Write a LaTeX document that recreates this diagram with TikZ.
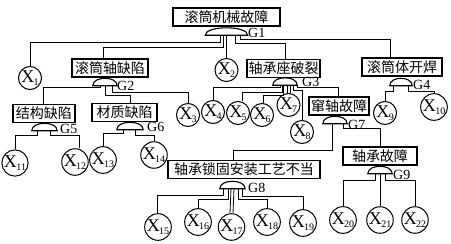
\documentclass[tikz,border=0pt]{standalone}
\usepackage{fontspec}
\setmainfont{Liberation Serif}
\newfontfamily\cjk{Noto Sans CJK SC}
\usetikzlibrary{calc}
\newcommand\xl[1]{X\kern-0.5pt\raisebox{-0.3ex}{\fontsize{10}{10}\selectfont#1}}
\tikzset{
 box/.style={draw, line width=1.2pt, inner sep=0pt, minimum height=18pt, font=\cjk\fontsize{14}{14}\selectfont},
 evt/.style={circle, draw, line width=1pt, minimum size=23pt, inner sep=0pt, font=\fontsize{18}{18}\selectfont},
 gate/.style={inner sep=0pt, minimum height=7pt},
 gatelab/.style={anchor=west, inner sep=0pt, font=\fontsize{14}{14}\selectfont},
 wire/.style={line width=0.8pt},
 gateline/.style={line width=1.1pt}
}
\begin{document}
\begin{tikzpicture}[x=1pt,y=-1pt]
\useasboundingbox (0,0) rectangle (451,244);
% boxes
\node[box, minimum width=107pt] (t)  at (226.5,17)  {滚筒机械故障};
\node[box, minimum width=76pt]  (b2) at (110,68)    {滚筒轴缺陷};
\node[box, minimum width=73pt]  (b3) at (283.5,68.5){轴承座破裂};
\node[box, minimum width=80pt]  (b4) at (402,67)    {滚筒体开焊};
\node[box, minimum width=62pt]  (b5) at (44,113.5)  {结构缺陷};
\node[box, minimum width=65pt]  (b6) at (124.5,112.5){材质缺陷};
\node[box, minimum width=60pt]  (b7) at (339,106)   {窜轴故障};
\node[box, minimum width=152pt] (b8) at (244,169.5) {轴承锁固安装工艺不当};
\node[box, minimum width=74pt]  (b9) at (380,156)   {轴承故障};
% gates
\node[gate, minimum width=42pt] (g1) at (226.5,31.5) {};
\node[gate, minimum width=24pt] (g2) at (105,82) {};
\node[gate, minimum width=24pt] (g3) at (285,81.5) {};
\node[gate, minimum width=22pt] (g4) at (401,82) {};
\node[gate, minimum width=25pt] (g5) at (44.5,127) {};
\node[gate, minimum width=26pt] (g6) at (130,126) {};
\node[gate, minimum width=24pt] (g7) at (335,120) {};
\node[gate, minimum width=25pt] (g8) at (232.5,185) {};
\node[gate, minimum width=24pt] (g9) at (380,170) {};
\foreach \g in {g1,g2,g3,g4,g5,g6,g7,g8,g9}{
  \draw[gateline] (\g.south west) .. controls ([yshift=5pt]\g.south west) and ($(\g.north west)!0.5!(\g.north)$) .. (\g.north)
     .. controls ($(\g.north east)!0.5!(\g.north)$) and ([yshift=5pt]\g.south east) .. (\g.south east) -- cycle;
}
% gate labels
\node[gatelab] (l1) at (248,33) {G1};
\node[gatelab] (l2) at (117,86) {G2};
\node[gatelab] (l3) at (302,82) {G3};
\node[gatelab] (l4) at (413,85) {G4};
\node[gatelab] (l5) at (60,129) {G5};
\node[gatelab] (l6) at (147,127) {G6};
\node[gatelab] (l7) at (348,125) {G7};
\node[gatelab] (l8) at (248,188) {G8};
\node[gatelab] (l9) at (393,175) {G9};
% events
\node[evt] (x1)  at (30,78)   {\xl{1}};
\node[evt] (x2)  at (226.5,70){\xl{2}};
\node[evt] (x3)  at (188,115) {\xl{3}};
\node[evt] (x4)  at (213,112) {\xl{4}};
\node[evt] (x5)  at (238,113) {\xl{5}};
\node[evt] (x6)  at (262,115) {\xl{6}};
\node[evt] (x7)  at (288.5,105){\xl{7}};
\node[evt] (x8)  at (302,132) {\xl{8}};
\node[evt] (x9)  at (385,113) {\xl{9}};
\node[evt] (x10) at (434,107) {\xl{10}};
\node[evt] (x11) at (15,163)  {\xl{11}};
\node[evt] (x12) at (75,162)  {\xl{12}};
\node[evt] (x13) at (103,160) {\xl{13}};
\node[evt] (x14) at (154,155) {\xl{14}};
\node[evt] (x15) at (158,227) {\xl{15}};
\node[evt] (x16) at (198,222) {\xl{16}};
\node[evt] (x17) at (231.5,227){\xl{17}};
\node[evt] (x18) at (267,222) {\xl{18}};
\node[evt] (x19) at (303,223) {\xl{19}};
\node[evt] (x20) at (343,220) {\xl{20}};
\node[evt] (x21) at (380,220) {\xl{21}};
\node[evt] (x22) at (415,220) {\xl{22}};
% connectors
\begin{scope}[wire]
% G1
\draw ([xshift=-6.5pt]g1.south) -- ++(0,7) -| (x1.north);
\draw ([xshift=-3.5pt]g1.south) -- ++(0,12) -| ([xshift=-7pt]b2.north);
\draw (g1.south) -- (x2.north);
\draw ([xshift=8.5pt]g1.south) -- ++(0,8) -| ([xshift=1.5pt]b3.north);
\draw ([xshift=13.5pt]g1.south) -- ++(0,4) -| ([xshift=-12pt]b4.north);
% G2
\draw ([xshift=-5pt]g2.south) -- ++(0,2) -| ([xshift=-1pt]b5.north);
\draw (g2.south) -- ++(0,10) -| ([xshift=5.5pt]b6.north);
\draw ([xshift=7pt]g2.south) -- ++(0,7) -| (x3.north);
% G3
\draw ([xshift=-5pt]g3.south) -- ++(0,2) -| (x4.north);
\draw ([xshift=-3pt]g3.south) -- ++(0,7) -| ([xshift=4pt]x5.north);
\draw ([xshift=-1.5pt]g3.south) -- ++(0,10) -| ([xshift=1pt]x6.north);
\draw ([xshift=2pt]g3.south) -- ([xshift=-1.5pt]x7.north);
\draw ([xshift=5pt]g3.south) -- ([xshift=1.5pt]x7.north);
\draw ([xshift=8pt]g3.south) -- ++(0,5) -| (x8.north);
\draw ([xshift=12pt]g3.south) -- ++(0,2) -| ([xshift=-1pt]b7.north);
% G4
\draw ([xshift=-8pt]g4.south) -- ++(0,6) -| (x9.north);
\draw ([xshift=7pt]g4.south) -- ++(0,6) -| (x10.north);
% G5
\draw ([xshift=-7.5pt]g5.south) -- ++(0,5) -| (x11.north);
\draw ([xshift=5.5pt]g5.south) -- ++(0,5) -| ([xshift=4pt]x12.north);
% G6
\draw ([xshift=-7pt]g6.south) -- ++(0,4) -| (x13.north);
\draw ([xshift=5pt]g6.south) -- ++(0,6) -| (x14.north);
% G7
\draw ([xshift=-3pt]g7.south) -- ++(0,27) -| ([xshift=-11pt]b8.north);
\draw ([xshift=8pt]g7.south) -- ++(0,5) -| (b9.north);
% G8
\draw ([xshift=-9.5pt]g8.south) -- ++(0,7) -| ([xshift=-1pt]x15.north);
\draw ([xshift=-4.5pt]g8.south) -- ++(0,11) -| (x16.north);
\draw ([xshift=-1.5pt]g8.south) -- ([xshift=-1.5pt]x17.north);
\draw ([xshift=1.5pt]g8.south) -- ([xshift=1.5pt]x17.north);
\draw ([xshift=5.5pt]g8.south) -- ++(0,11) -| (x18.north);
\draw ([xshift=9.5pt]g8.south) -- ++(0,8) -| (x19.north);
% G9
\draw ([xshift=-5pt]g9.south) -- ++(0,7) -| (x20.north);
\draw (g9.south) -- (x21.north);
\draw ([xshift=5pt]g9.south) -- ++(0,7) -| (x22.north);
\end{scope}
\end{tikzpicture}
\end{document}
